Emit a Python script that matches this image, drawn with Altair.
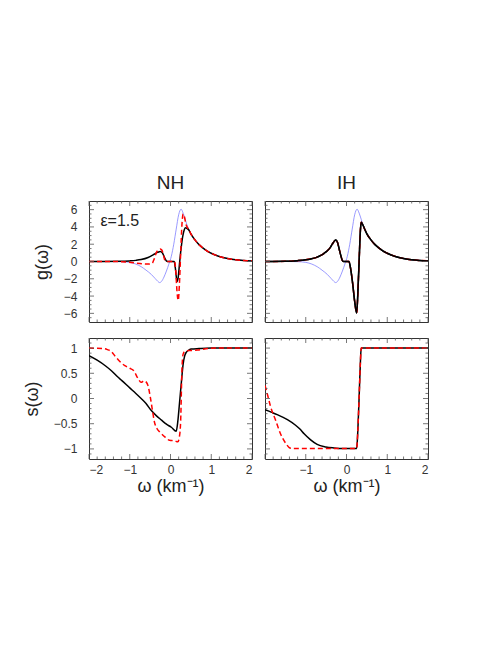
import altair as alt
import pandas as pd

# ---------------- data ----------------
# g(omega): blue thin curve (initial spectrum), shared by NH and IH
w_blue = [-2.0, -1.5, -1.2, -1.0, -0.85, -0.72, -0.6, -0.47, -0.38, -0.31, -0.27, -0.22, -0.16, -0.1,
          -0.04, 0.02, 0.08, 0.14, 0.2, 0.26, 0.31, 0.36, 0.4, 0.45, 0.5, 0.6, 0.7, 0.8, 0.9, 1.0,
          1.2, 1.4, 1.6, 1.8, 2.0]
g_blue = [0.0, 0.0, -0.02, -0.1, -0.3, -0.6, -1.0, -1.5, -1.95, -2.3, -2.44, -2.3, -1.8, -1.1,
          -0.3, 0.6, 2.0, 3.75, 5.4, 6.05, 5.6, 4.9, 4.3, 3.7, 3.2, 2.5, 1.95, 1.55, 1.2, 0.95,
          0.58, 0.35, 0.2, 0.12, 0.07]

# g(omega) NH
w_nh_g_black = [-2.0, -1.2, -1.0, -0.85, -0.72, -0.55, -0.45, -0.39, -0.32, -0.25, -0.2, -0.16, -0.12,
                -0.09, -0.05, 0.09, 0.12, 0.16, 0.19, 0.22, 0.26, 0.3, 0.34, 0.37, 0.4, 0.45, 0.5,
                0.6, 0.7, 0.8, 0.9, 1.0, 1.2, 1.4, 1.6, 1.8, 2.0]
g_nh_black = [0.0, 0.02, 0.07, 0.13, 0.22, 0.46, 0.7, 0.87, 1.05, 1.16, 1.0, 0.6, 0.2,
              0.03, 0.0, 0.0, -0.8, -2.3, -1.8, -0.3, 1.5, 2.9, 3.7, 3.9, 3.85, 3.65, 3.2,
              2.5, 1.95, 1.55, 1.2, 0.95, 0.58, 0.35, 0.2, 0.12, 0.07]
w_nh_g_red = [-2.0, -1.4, -1.1, -0.9, -0.7, -0.55, -0.45, -0.4, -0.35, -0.3, -0.25, -0.21, -0.17,
              -0.13, -0.1, 0.1, 0.13, 0.16, 0.19, 0.22, 0.25, 0.28, 0.31, 0.34, 0.38, 0.42, 0.45,
              0.5, 0.6, 0.7, 0.8, 0.9, 1.0, 1.2, 1.4, 1.6, 1.8, 2.0]
g_nh_red = [0.0, 0.0, -0.05, -0.15, -0.25, -0.3, -0.2, 0.3, 1.0, 1.35, 1.45, 1.3, 0.7,
            0.05, 0.0, 0.0, -1.2, -3.5, -4.5, -2.5, 1.0, 4.2, 5.5, 5.2, 4.3, 3.9, 3.7,
            3.2, 2.5, 1.95, 1.55, 1.2, 0.95, 0.58, 0.35, 0.2, 0.12, 0.07]

# g(omega) IH (red dashed coincides with black)
w_ih_g_black = [-2.0, -1.5, -1.2, -1.0, -0.88, -0.75, -0.63, -0.55, -0.47, -0.4, -0.35, -0.3, -0.26,
                -0.22, -0.18, -0.14, -0.1, -0.07, 0.06, 0.1, 0.15, 0.2, 0.25, 0.28, 0.31, 0.34,
                0.36, 0.4, 0.45, 0.5, 0.6, 0.7, 0.8, 0.9, 1.0, 1.2, 1.4, 1.6, 1.8, 2.0]
g_ih_black = [0.0, 0.02, 0.1, 0.2, 0.3, 0.45, 0.7, 0.95, 1.25, 1.6, 2.0, 2.35, 2.49,
              2.2, 1.45, 0.7, 0.1, 0.0, 0.0, -0.8, -2.5, -4.6, -5.97, -3.5, 0.1, 3.5,
              4.54, 4.25, 3.7, 3.2, 2.5, 1.95, 1.55, 1.2, 0.95, 0.58, 0.35, 0.2, 0.12, 0.07]
w_ih_g_red = w_ih_g_black
g_ih_red = g_ih_black

# s(omega) NH
w_nh_s_black = [-2.0, -1.8, -1.6, -1.45, -1.3, -1.2, -1.0, -0.85, -0.72, -0.6, -0.47, -0.35, -0.22,
                -0.1, 0.02, 0.14, 0.18, 0.22, 0.27, 0.31, 0.35, 0.39, 0.45, 0.51, 0.7, 1.0, 2.0]
s_nh_black = [0.85, 0.76, 0.65, 0.55, 0.43, 0.36, 0.21, 0.1, 0.0, -0.1, -0.24, -0.34, -0.43,
              -0.51, -0.57, -0.65, -0.45, -0.1, 0.35, 0.68, 0.85, 0.92, 0.96, 0.98, 0.99, 1.0, 1.0]
w_nh_s_red = [-2.0, -1.65, -1.55, -1.45, -1.35, -1.25, -1.12, -1.0, -0.9, -0.8, -0.72, -0.65, -0.6,
              -0.55, -0.5, -0.45, -0.39, -0.33, -0.27, -0.14, -0.02, 0.1, 0.18, 0.22, 0.25, 0.28,
              0.31, 0.35, 0.45, 0.67, 0.92, 1.1, 2.0]
s_nh_red = [1.0, 0.99, 0.97, 0.93, 0.83, 0.74, 0.65, 0.6, 0.55, 0.4, 0.32, 0.35, 0.33,
            0.25, 0.05, -0.2, -0.48, -0.6, -0.66, -0.76, -0.83, -0.84, -0.86, -0.75, -0.43, 0.55,
            0.88, 0.93, 0.95, 0.96, 0.99, 1.0, 1.0]

# s(omega) IH
w_ih_s_black = [-2.0, -1.85, -1.7, -1.45, -1.25, -1.15, -1.04, -0.88, -0.72, -0.51, -0.31, -0.06,
                0.25, 0.28, 0.31, 0.34, 0.36, 2.0]
s_ih_black = [-0.22, -0.27, -0.32, -0.42, -0.53, -0.6, -0.70, -0.82, -0.91, -0.96, -0.98, -0.99,
              -0.99, -0.6, 0.03, 0.7, 1.0, 1.0]
w_ih_s_red = [-2.0, -1.93, -1.86, -1.74, -1.62, -1.49, -1.39, -1.3, 0.25, 0.28, 0.31, 0.34, 0.36, 2.0]
s_ih_red = [0.26, 0.05, -0.17, -0.43, -0.70, -0.89, -0.98, -0.99, -0.99, -0.6, 0.03, 0.7, 1.0, 1.0]

# axis ticks / labels
x_major = [-2, -1, 0, 1, 2]
x_minor = [-1.8, -1.6, -1.4, -1.2, -0.8, -0.6, -0.4, -0.2, 0.2, 0.4, 0.6, 0.8, 1.2, 1.4, 1.6, 1.8]
g_major = [-6, -4, -2, 0, 2, 4, 6]
g_minor = [-6.5, -5.5, -5, -4.5, -3.5, -3, -2.5, -1.5, -1, -0.5, 0.5, 1, 1.5, 2.5, 3, 3.5, 4.5, 5, 5.5, 6.5]
s_major = [-1, -0.5, 0, 0.5, 1]
s_minor = [-1.1, -0.9, -0.8, -0.7, -0.6, -0.4, -0.3, -0.2, -0.1, 0.1, 0.2, 0.3, 0.4, 0.6, 0.7, 0.8, 0.9, 1.1]
x_labels_nh = [-2, -1, 0, 1, 2]
x_labels_ih = [-1, 0, 1, 2]
eps_label = "ε=1.5"

# ---------------- chart ----------------
W, H = 163, 121
FONT = "Liberation Sans"
BLUE = "#8080ff"
RED = "#ff0000"
BLACK = "#000000"


def df(w, v):
    return pd.DataFrame({"w": w, "v": v})


def panel(kind, col):
    ydom = [-7, 7] if kind == "g" else [-1.2, 1.2]
    ymaj, ymin = (g_major, g_minor) if kind == "g" else (s_major, s_minor)
    xs = alt.Scale(domain=[-2, 2], nice=False, zero=False)
    ys = alt.Scale(domain=ydom, nice=False, zero=False)
    if kind == "s":
        xaxis = alt.Axis(values=x_labels_nh if col == 0 else x_labels_ih, format="~g",
                         title="ω (km⁻¹)", labelPadding=5, titlePadding=2)
    else:
        xaxis = None
    if col == 0:
        yaxis = alt.Axis(values=ymaj, format="~g", title=("g(ω)" if kind == "g" else "s(ω)"),
                         labelPadding=12, titlePadding=12)
    else:
        yaxis = None
    X = alt.X("w:Q", scale=xs, axis=xaxis)
    Y = alt.Y("v:Q", scale=ys, axis=yaxis)

    layers = []
    if kind == "g":
        layers.append(alt.Chart(df(w_blue, g_blue)).mark_line(
            color=BLUE, strokeWidth=0.8, interpolate="monotone", clip=True).encode(x=X, y=Y))
        if col == 0:
            red, black = df(w_nh_g_red, g_nh_red), df(w_nh_g_black, g_nh_black)
        else:
            red, black = df(w_ih_g_red, g_ih_red), df(w_ih_g_black, g_ih_black)
    else:
        if col == 0:
            red, black = df(w_nh_s_red, s_nh_red), df(w_nh_s_black, s_nh_black)
        else:
            red, black = df(w_ih_s_red, s_ih_red), df(w_ih_s_black, s_ih_black)
    layers.append(alt.Chart(black).mark_line(
        color=BLACK, strokeWidth=1.5, interpolate="monotone", clip=True).encode(x=X, y=Y))
    layers.append(alt.Chart(red).mark_line(
        color=RED, strokeWidth=1.5, strokeDash=[5, 3], interpolate="monotone", clip=True).encode(x=X, y=Y))
    if col == 1 and kind == "g":
        layers.append(alt.Chart(black).mark_line(
            color=BLACK, strokeWidth=1.5, interpolate="monotone", clip=True).encode(x=X, y=Y))

    # inward ticks on all four sides
    xmaj = pd.DataFrame({"w": x_major})
    xmin = pd.DataFrame({"w": x_minor})
    ymj = pd.DataFrame({"v": ymaj})
    ymn = pd.DataFrame({"v": ymin})
    tick = dict(color="#555", strokeWidth=0.8)
    for d, L in ((xmaj, 5), (xmin, 2.5)):
        layers.append(alt.Chart(d).mark_rule(**tick).encode(x=X, y=alt.value(H), y2=alt.value(H - L)))
        layers.append(alt.Chart(d).mark_rule(**tick).encode(x=X, y=alt.value(0), y2=alt.value(L)))
    for d, L in ((ymj, 5), (ymn, 2.5)):
        layers.append(alt.Chart(d).mark_rule(**tick).encode(y=Y, x=alt.value(0), x2=alt.value(L)))
        layers.append(alt.Chart(d).mark_rule(**tick).encode(y=Y, x=alt.value(W), x2=alt.value(W - L)))

    if kind == "g" and col == 0:
        layers.append(alt.Chart(pd.DataFrame({"w": [-1.72], "v": [4.7], "t": [eps_label]})).mark_text(
            align="left", baseline="middle", font=FONT, fontSize=16, color="#222").encode(
            x=X, y=Y, text="t:N"))

    ch = alt.layer(*layers).properties(width=W, height=H)
    if kind == "g":
        ch = ch.properties(title=alt.TitleParams("NH" if col == 0 else "IH", fontSize=19,
                                                 fontWeight="normal", font=FONT, anchor="middle",
                                                 offset=8, color="#222"))
    return ch


top = alt.hconcat(panel("g", 0), panel("g", 1), spacing=13, bounds="flush")
bottom = alt.hconcat(panel("s", 0), panel("s", 1), spacing=13, bounds="flush")
chart = alt.vconcat(top, bottom, spacing=14).properties(
    padding={"left": 14, "top": 165, "right": 5, "bottom": 5},
    background="white"
).configure_view(stroke="#333", strokeWidth=1).configure_axis(
    grid=False, domain=False, ticks=False, labelFont=FONT, labelFontSize=12, labelColor="#333",
    titleFont=FONT, titleFontSize=18, titleFontWeight="normal", titleColor="#222"
)

chart.save("out.html", embed_options={"renderer": "svg", "actions": False})
